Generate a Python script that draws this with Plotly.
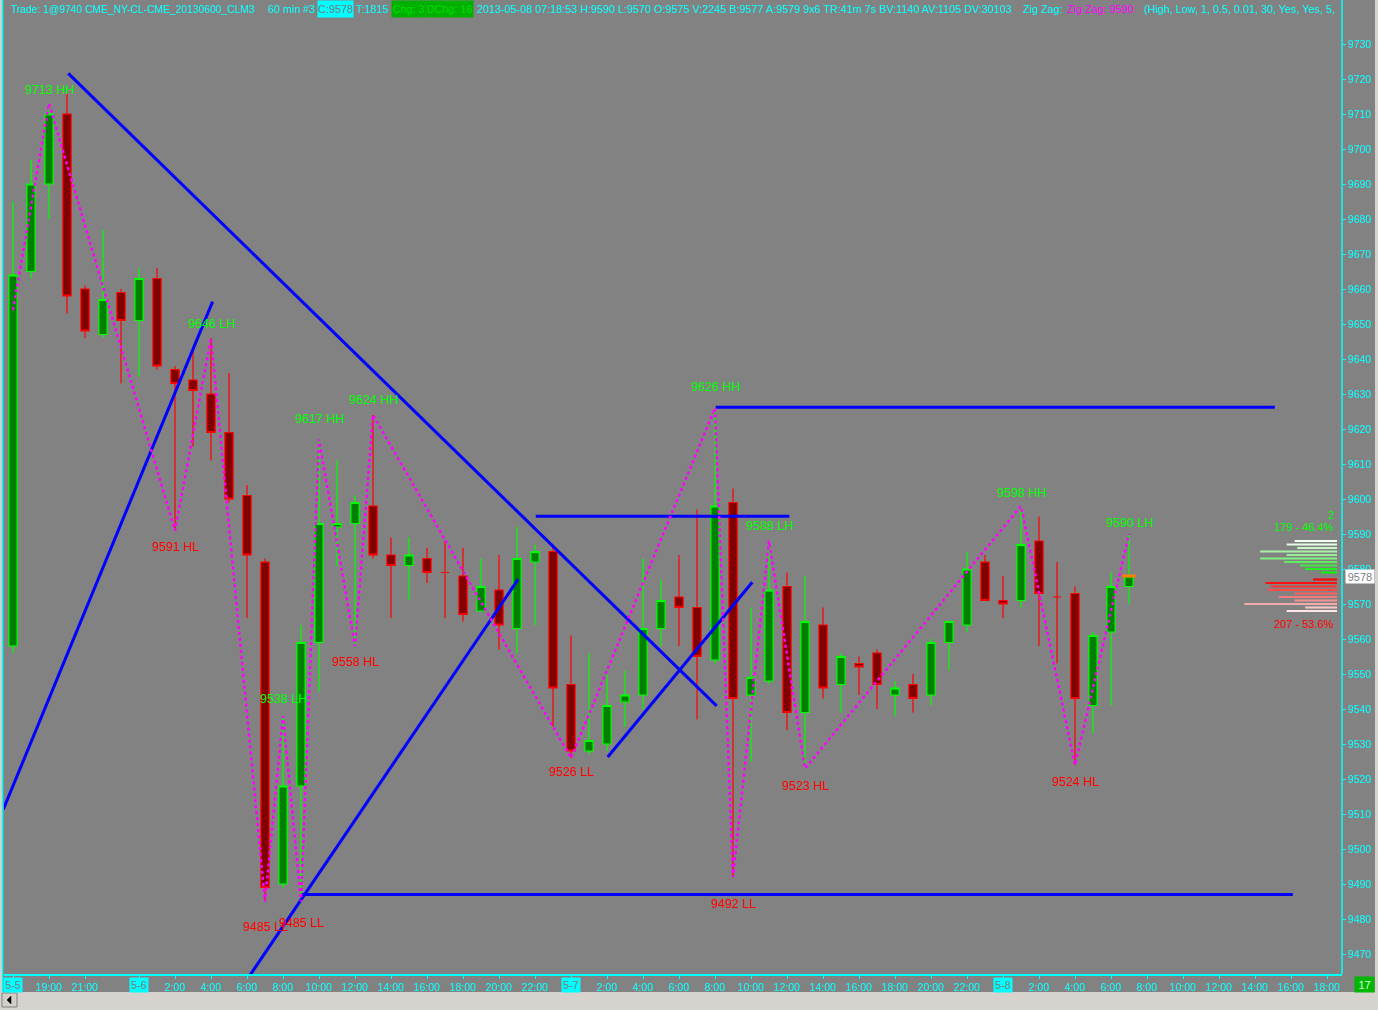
import plotly.graph_objects as go

# ---------------- data (60 min bars, CL, prices in cents) ----------------
opens = [9558, 9665, 9690, 9710, 9660, 9647, 9659, 9651, 9663, 9637,
         9634, 9630, 9619, 9601, 9582, 9490, 9518, 9559, 9592, 9593,
         9598, 9584, 9581, 9583, 9579, 9578, 9568, 9574, 9563, 9582,
         9585, 9547, 9528, 9530, 9542, 9544, 9563, 9572, 9569, 9554,
         9599, 9544, 9548, 9575, 9539, 9564, 9547, 9553, 9556, 9544,
         9547, 9544, 9559, 9564, 9582, 9571, 9571, 9588, 9572, 9573,
         9541, 9562, 9575]
highs = [9685, 9697, 9713, 9716, 9661, 9677, 9660, 9666, 9666, 9638,
         9642, 9646, 9636, 9604, 9583, 9538, 9564, 9617, 9611, 9601,
         9624, 9589, 9589, 9586, 9588, 9586, 9583, 9584, 9592, 9587,
         9586, 9561, 9556, 9550, 9551, 9583, 9577, 9584, 9597, 9626,
         9603, 9569, 9588, 9579, 9578, 9569, 9556, 9555, 9557, 9548,
         9550, 9560, 9565, 9585, 9584, 9578, 9598, 9595, 9582, 9575,
         9562, 9579, 9590]
lows = [9556, 9663, 9680, 9653, 9646, 9646, 9633, 9635, 9637, 9591,
        9615, 9611, 9599, 9566, 9485, 9489, 9485, 9545, 9581, 9558,
        9583, 9566, 9571, 9576, 9566, 9565, 9568, 9557, 9556, 9564,
        9535, 9526, 9527, 9528, 9535, 9540, 9558, 9558, 9537, 9553,
        9492, 9525, 9547, 9534, 9523, 9543, 9539, 9544, 9540, 9538,
        9539, 9541, 9551, 9562, 9571, 9566, 9569, 9558, 9553, 9524,
        9533, 9541, 9570]
closes = [9664, 9690, 9710, 9658, 9648, 9657, 9651, 9663, 9638, 9633,
          9631, 9619, 9600, 9584, 9489, 9518, 9559, 9593, 9593, 9599,
          9584, 9581, 9584, 9579, 9579, 9567, 9575, 9564, 9583, 9585,
          9546, 9528, 9531, 9541, 9544, 9563, 9571, 9569, 9555, 9598,
          9543, 9549, 9574, 9539, 9565, 9546, 9555, 9552, 9547, 9546,
          9543, 9559, 9565, 9580, 9571, 9570, 9587, 9573, 9572, 9543,
          9561, 9575, 9578]
bar_index = list(range(len(opens)))

x_tick_bars = [0, 2, 4, 7, 9, 11, 13, 15, 17, 19, 21, 23, 25, 27, 29,
               31, 33, 35, 37, 39, 41, 43, 45, 47, 49, 51, 53,
               55, 57, 59, 61, 63, 65, 67, 69, 71, 73]
x_tick_text = ["5-5", "19:00", "21:00",
               "5-6", "2:00", "4:00", "6:00", "8:00", "10:00", "12:00", "14:00", "16:00", "18:00", "20:00", "22:00",
               "5-7", "2:00", "4:00", "6:00", "8:00", "10:00", "12:00", "14:00", "16:00", "18:00", "20:00", "22:00",
               "5-8", "2:00", "4:00", "6:00", "8:00", "10:00", "12:00", "14:00", "16:00", "18:00"]

# zig zag pivots (bar index, tag)
zigzag_start_bar = 0
zigzag_start_price = 9654
pivot_bars = [2, 9, 11, 14, 15, 16, 17, 19, 20, 31, 39, 40, 42, 44, 56, 59, 62]
pivot_tags = ["HH", "HL", "LH", "LL", "LH", "LL", "HH", "HL", "HH",
              "LL", "HH", "LL", "LH", "HL", "HH", "HL", "LH"]

# hand-drawn trend lines: (bar0, price0, bar1, price1)
trend_lines = [
    (3.07, 9721.6, 39.09, 9540.9),
    (-0.54, 9511.3, 11.09, 9656.4),
    (13.0, 9462.7, 28.07, 9577.1),
    (33.04, 9526.3, 41.07, 9576.2),
    (29.04, 9595.1, 43.13, 9595.1),
    (39.04, 9626.2, 70.10, 9626.2),
    (16.04, 9487.0, 71.10, 9487.0),
]

# volume profile of the current bar
profile_ask_prices = [9588, 9587, 9586, 9585, 9584, 9583, 9582, 9581, 9580, 9579]
profile_ask_vol = [16, 19, 15, 29, 19, 29, 20, 14, 12, 6]
profile_bid_prices = [9577, 9576, 9575, 9574, 9573, 9572, 9571, 9570, 9569, 9568]
profile_bid_vol = [9, 27, 25, 26, 16, 22, 16, 35, 12, 19]
profile_count_text = "2"

title_main = "Trade: 1@9740 CME_NY-CL-CME_20130600_CLM3"
title_interval = "60 min"
title_num = "#3"
title_close = "C:9578"
title_ticks = "T:1815"
title_chg = "Chg: 3"
title_dchg = "DChg: 16"
title_stats = "2013-05-08 07:18:53 H:9590 L:9570 O:9575 V:2245 B:9577 A:9579 9x6 TR:41m 7s BV:1140 AV:1105 DV:30103"
title_zz = "Zig Zag:"
title_zz_val = "Zig Zag: 9590"
title_zz_params = "(High, Low, 1, 0.5, 0.01, 30, Yes, Yes, 5,"
corner_text = "17"

# ---------------- style ----------------
W, H = 1378, 1010
L, R, T, B = 4, 1342, 20, 974
BG = "#828282"
CYAN = "#00FFFF"
GREEN = "#00FF00"
RED = "#FF0000"
MAGENTA = "#FF00FF"
BLUE = "#0000FF"
LIGHT = "#D6D3CE"
FONT = "Liberation Sans"
ask_colors = ["#EEFFEE", "#E4FCE4", "#C8F4C8", "#A8F0A8", "#98EE98",
              "#80F080", "#60EC60", "#40EA40", "#20F020", "#00FF00"]
bid_colors = ["#FF0000", "#FF1010", "#FF3434", "#FF4A4A", "#FA6262",
              "#F27A7A", "#F09494", "#F0AAAA", "#F8C8C8", "#FFE6E6"]

PPX = 3.5  # px per price unit
y_lo = 9730 - (B - 44) / PPX
y_hi = 9730 + (44 - T) / PPX
x_lo = (L - 13) / 18.0
x_hi = (R - 13) / 18.0
prof_px = 2.65
x2_range = [(1337 - L) / prof_px, -(R - 1337) / prof_px]


def pxx(px):
    return (px - L) / (R - L)


def pxy(py):
    return (B - py) / (B - T)


fig = go.Figure()

fig.add_trace(go.Candlestick(
    x=bar_index, open=opens, high=highs, low=lows, close=closes,
    increasing=dict(line=dict(color=GREEN, width=1.2), fillcolor="#008000"),
    decreasing=dict(line=dict(color=RED, width=1.2), fillcolor="#800000"),
    whiskerwidth=0, hoverinfo="skip", showlegend=False))

# trend lines
for (xa, ya, xb, yb) in trend_lines:
    fig.add_trace(go.Scatter(x=[xa, xb], y=[ya, yb], mode="lines",
                             line=dict(color=BLUE, width=3), hoverinfo="skip"))

# zig zag
zz_x = [zigzag_start_bar]
zz_y = [zigzag_start_price]
for b, tag in zip(pivot_bars, pivot_tags):
    zz_x.append(b)
    zz_y.append(highs[b] if tag[1] == "H" else lows[b])
fig.add_trace(go.Scatter(x=zz_x, y=zz_y, mode="lines",
                         line=dict(color=MAGENTA, width=2.5, dash="dot"), hoverinfo="skip"))

# current price marker
last = len(closes) - 1
fig.add_trace(go.Scatter(x=[last - 0.37, last + 0.37], y=[closes[last], closes[last]], mode="lines",
                         line=dict(color="#FF8000", width=3), hoverinfo="skip"))

# volume profile
fig.add_trace(go.Bar(x=profile_ask_vol + profile_bid_vol,
                     y=profile_ask_prices + profile_bid_prices,
                     orientation="h", xaxis="x2", yaxis="y", width=0.6,
                     marker=dict(color=ask_colors + bid_colors, line=dict(width=0)),
                     hoverinfo="skip"))

ann = []
# zig zag labels
for b, tag in zip(pivot_bars, pivot_tags):
    hi = tag[1] == "H"
    price = highs[b] if hi else lows[b]
    rng = highs[b] - lows[b]
    ann.append(dict(x=b, y=price + 0.05 * rng if hi else price - 0.05 * rng,
                    xref="x", yref="y", text=f"{price} {tag}", showarrow=False,
                    yshift=8 if hi else -8, xanchor="center", yanchor="middle",
                    font=dict(family=FONT, size=12.5, color=GREEN if hi else RED)))

# profile stats
tot = sum(profile_ask_vol) + sum(profile_bid_vol)
ann.append(dict(x=0, xref="x2", y=profile_ask_prices[0] + 7.4, yref="y", text=profile_count_text,
                showarrow=False, xanchor="right", yanchor="middle", xshift=-1,
                font=dict(family=FONT, size=11, color=GREEN)))
ann.append(dict(x=0, xref="x2", y=profile_ask_prices[0] + 4.1, yref="y",
                text=f"{sum(profile_ask_vol)} - {100 * sum(profile_ask_vol) / tot:.1f}%",
                showarrow=False, xanchor="right", yanchor="middle", xshift=-1,
                font=dict(family=FONT, size=11, color=GREEN)))
ann.append(dict(x=0, xref="x2", y=profile_bid_prices[-1] - 3.7, yref="y",
                text=f"{sum(profile_bid_vol)} - {100 * sum(profile_bid_vol) / tot:.1f}%",
                showarrow=False, xanchor="right", yanchor="middle", xshift=-1,
                font=dict(family=FONT, size=11, color=RED)))

# last price box on axis
ann.append(dict(x=pxx(1345), xref="paper", y=closes[last], yref="y", text=str(closes[last]),
                showarrow=False, xanchor="left", yanchor="middle", bgcolor="white",
                width=28, height=13, borderpad=0,
                font=dict(family=FONT, size=11, color="#808080")))

# date boxes on the time axis
for b, t in zip(x_tick_bars, x_tick_text):
    if "-" in t:
        ann.append(dict(x=b, xref="x", y=pxy(985), yref="paper", text=t, showarrow=False,
                        xanchor="center", yanchor="middle", bgcolor=CYAN, width=18, height=14,
                        borderpad=0, font=dict(family=FONT, size=10.5, color="#7A7A7A")))

# title bar
ty = pxy(9.5)
title_parts = [
    (title_main, 10, CYAN, None, None, 10.3),
    (title_interval, 267, CYAN, None, None, 10.8),
    (title_num, 302, CYAN, None, None, 10.8),
    (title_close, 317, "#7A7A7A", CYAN, 35, 10.8),
    (title_ticks, 355, CYAN, None, None, 10.8),
    (title_chg, 391, "#00DD00", "#00B000", 33, 10.8),
    (title_dchg, 425, "#00DD00", "#00B000", 47, 10.8),
    (title_stats, 476, CYAN, None, None, 10.8),
    (title_zz, 1022, CYAN, None, None, 10.8),
    (title_zz_val, 1066, MAGENTA, None, None, 10.8),
    (title_zz_params, 1143, CYAN, None, None, 10.8),
]
for text, xp, col, bg, wd, fs in title_parts:
    d = dict(x=pxx(xp), xref="paper", y=ty, yref="paper", text=text, showarrow=False,
             xanchor="left", yanchor="middle", borderpad=0,
             font=dict(family=FONT, size=fs, color=col))
    if bg:
        d.update(bgcolor=bg, width=wd, height=16)
    ann.append(d)

# corner box
ann.append(dict(x=pxx(1364.5), xref="paper", y=pxy(984.5), yref="paper", text=corner_text,
                showarrow=False, xanchor="center", yanchor="middle", bgcolor="#00B800",
                width=19, height=15, borderpad=0, font=dict(family=FONT, size=11, color="#D8FFD8")))

shapes = [
    # right axis line through title bar
    dict(type="line", xref="paper", yref="paper", x0=1, x1=1, y0=0, y1=pxy(0),
         line=dict(color=CYAN, width=1.5)),
    # left border
    dict(type="rect", xref="paper", yref="paper", x0=pxx(0), x1=pxx(2), y0=pxy(992), y1=pxy(0),
         fillcolor=LIGHT, line=dict(width=0)),
    dict(type="line", xref="paper", yref="paper", x0=pxx(2.5), x1=pxx(2.5), y0=pxy(992), y1=pxy(0),
         line=dict(color=CYAN, width=1.5)),
    # bottom strip and right strip
    dict(type="rect", xref="paper", yref="paper", x0=pxx(0), x1=pxx(W), y0=pxy(H), y1=pxy(992),
         fillcolor=LIGHT, line=dict(width=0)),
    dict(type="rect", xref="paper", yref="paper", x0=pxx(1375), x1=pxx(W), y0=pxy(992), y1=pxy(0),
         fillcolor=LIGHT, line=dict(width=0)),
    # scroll button
    dict(type="rect", xref="paper", yref="paper", x0=pxx(2), x1=pxx(17), y0=pxy(1007), y1=pxy(993),
         fillcolor="#D4D0C8", line=dict(color="#808080", width=1)),
    dict(type="path", xref="paper", yref="paper",
         path=f"M {pxx(7)},{pxy(1000)} L {pxx(11)},{pxy(996)} L {pxx(11)},{pxy(1004)} Z",
         fillcolor="black", line=dict(color="black", width=0.5)),
]

fig.update_layout(
    width=W, height=H,
    margin=dict(l=L, r=W - R, t=T, b=H - B, pad=0, autoexpand=False),
    paper_bgcolor=BG, plot_bgcolor=BG, showlegend=False,
    boxgap=0.35, barmode="overlay",
    xaxis=dict(range=[x_lo, x_hi], tickmode="array", tickvals=x_tick_bars,
               ticktext=["" if "-" in t else t for t in x_tick_text],
               ticks="outside", ticklen=3, tickcolor=CYAN, tickwidth=1,
               showline=True, linecolor=CYAN, linewidth=1.5, showgrid=False, zeroline=False,
               tickfont=dict(family=FONT, size=10.5, color=CYAN),
               rangeslider=dict(visible=False), fixedrange=True),
    xaxis2=dict(overlaying="x", range=x2_range, visible=False, anchor="y", fixedrange=True),
    yaxis=dict(side="right", range=[y_lo, y_hi], tick0=9470, dtick=10, tickformat="d",
               ticks="outside", ticklen=3, tickcolor=CYAN, tickwidth=1,
               showline=False, showgrid=False, zeroline=False,
               tickfont=dict(family=FONT, size=10.5, color=CYAN), fixedrange=True),
    annotations=ann, shapes=shapes,
)

fig.write_html("out.html", config={"displayModeBar": False},
               post_script="document.body.style.margin='0px';document.body.style.overflow='hidden';")
